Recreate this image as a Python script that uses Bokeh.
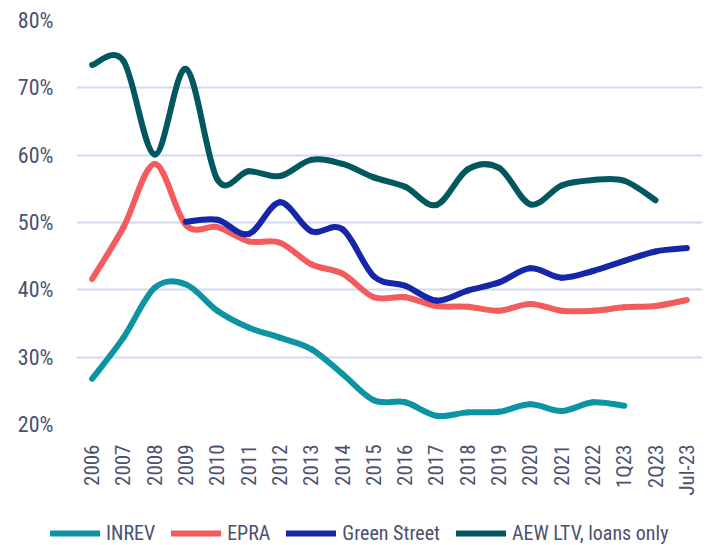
import math
from bokeh.plotting import figure
from bokeh.layouts import column
from bokeh.models import (Range1d, FixedTicker, PrintfTickFormatter, Legend,
                          LegendItem, ColumnDataSource)
from bokeh.embed import file_html
from bokeh.resources import INLINE

# ---- data -------------------------------------------------------------
periods = ["2006", "2007", "2008", "2009", "2010", "2011", "2012", "2013",
           "2014", "2015", "2016", "2017", "2018", "2019", "2020", "2021",
           "2022", "1Q23", "2Q23", "Jul-23"]

inrev = [26.8, 32.9, 40.3, 40.8, 36.9, 34.4, 32.9, 31.2, 27.5, 23.6,
         23.3, 21.3, 21.8, 21.9, 23.0, 22.0, 23.3, 22.8, None, None]
epra = [41.6, 49.3, 58.7, 49.6, 49.3, 47.2, 47.0, 43.8, 42.4, 38.9,
        38.9, 37.6, 37.5, 36.9, 37.9, 36.9, 36.9, 37.4, 37.6, 38.5]
green_street = [None, None, None, 50.1, 50.4, 48.3, 53.0, 48.7, 49.0, 42.0,
                40.6, 38.4, 39.9, 41.1, 43.2, 41.8, 42.8, 44.3, 45.7, 46.2]
aew = [73.4, 74.0, 60.1, 72.8, 56.4, 57.6, 56.9, 59.3, 58.7, 56.7,
       55.3, 52.6, 57.9, 58.1, 52.7, 55.5, 56.3, 56.2, 53.3, None]

series_names = ["INREV", "EPRA", "Green Street", "AEW LTV, loans only"]
series_values = [inrev, epra, green_street, aew]
series_colors = ["#0D94A3", "#F25C5C", "#1626A8", "#03575F"]
y_ticks = [20, 30, 40, 50, 60, 70, 80]

TEXT = "#4B5170"
FONT = "Roboto Condensed, DejaVu Sans Condensed, Lato"

W, H_LEG = 713, 35
p = figure(width=W, height=545 - H_LEG, output_backend="svg",
           toolbar_location=None,
           x_range=Range1d(-0.5, len(periods) - 0.5), y_range=Range1d(20, 80),
           min_border_left=76, min_border_right=11, min_border_top=20,
           min_border_bottom=86)
p.frame_align = False
p.outline_line_color = None
p.background_fill_color = "white"

p.xgrid.visible = False
p.ygrid.grid_line_color = "#D4D9F0"
p.ygrid.grid_line_width = 2
p.ygrid.ticker = FixedTicker(ticks=y_ticks)

p.yaxis.ticker = FixedTicker(ticks=y_ticks)
p.yaxis.formatter = PrintfTickFormatter(format="%d%%")
p.xaxis.ticker = FixedTicker(ticks=list(range(len(periods))))
p.xaxis.major_label_overrides = {i: s for i, s in enumerate(periods)}
p.xaxis.major_label_orientation = math.pi / 2
for ax in (p.xaxis, p.yaxis):
    ax.axis_line_color = None
    ax.major_tick_line_color = None
    ax.minor_tick_line_color = None
    ax.major_tick_out = 0
    ax.major_label_text_color = TEXT
    ax.major_label_text_font = FONT
p.yaxis.major_label_text_font_size = "22px"
p.yaxis.major_label_standoff = 23
p.xaxis.major_label_text_font_size = "21px"
p.xaxis.major_label_standoff = 20


def bezier_segments(vals):
    pts = [(i, v) for i, v in enumerate(vals) if v is not None]
    x0, y0, x1, y1, cx0, cy0, cx1, cy1 = ([] for _ in range(8))
    n = len(pts)
    for k in range(n - 1):
        pa = pts[max(k - 1, 0)]
        p1 = pts[k]
        p2 = pts[k + 1]
        pb = pts[min(k + 2, n - 1)]
        x0.append(p1[0]); y0.append(p1[1])
        x1.append(p2[0]); y1.append(p2[1])
        cx0.append(p1[0] + (p2[0] - pa[0]) / 6.0)
        cy0.append(p1[1] + (p2[1] - pa[1]) / 6.0)
        cx1.append(p2[0] - (pb[0] - p1[0]) / 6.0)
        cy1.append(p2[1] - (pb[1] - p1[1]) / 6.0)
    return dict(x0=x0, y0=y0, x1=x1, y1=y1, cx0=cx0, cy0=cy0, cx1=cx1, cy1=cy1)


# legend strip (separate small figure below the chart)
lf = figure(width=W, height=H_LEG, output_backend="svg", toolbar_location=None,
            x_range=Range1d(0, 1), y_range=Range1d(0, 1),
            x_axis_location=None, y_axis_location=None,
            min_border_left=0, min_border_right=0, min_border_top=0,
            min_border_bottom=0)
lf.frame_align = False
lf.outline_line_color = None
lf.xgrid.visible = False
lf.ygrid.visible = False

items = []
for name, vals, col in zip(series_names, series_values, series_colors):
    src = ColumnDataSource(bezier_segments(vals))
    p.bezier(x0="x0", y0="y0", x1="x1", y1="y1", cx0="cx0", cy0="cy0",
             cx1="cx1", cy1="cy1", source=src, line_color=col, line_width=6,
             line_cap="round")
    leg = lf.line(x=[-5], y=[-5], line_color=col, line_width=6, line_cap="round")
    items.append(LegendItem(label=name, renderers=[leg]))

legend = Legend(items=items, orientation="horizontal", location=(50, 0),
                glyph_width=50, glyph_height=16, label_standoff=6, spacing=16,
                padding=0, margin=0, border_line_color=None,
                background_fill_alpha=0,
                label_text_font=FONT, label_text_font_size="20px",
                label_text_color=TEXT)
lf.add_layout(legend, "center")

open("out.html", "w").write(file_html(column(p, lf, spacing=0), INLINE))
